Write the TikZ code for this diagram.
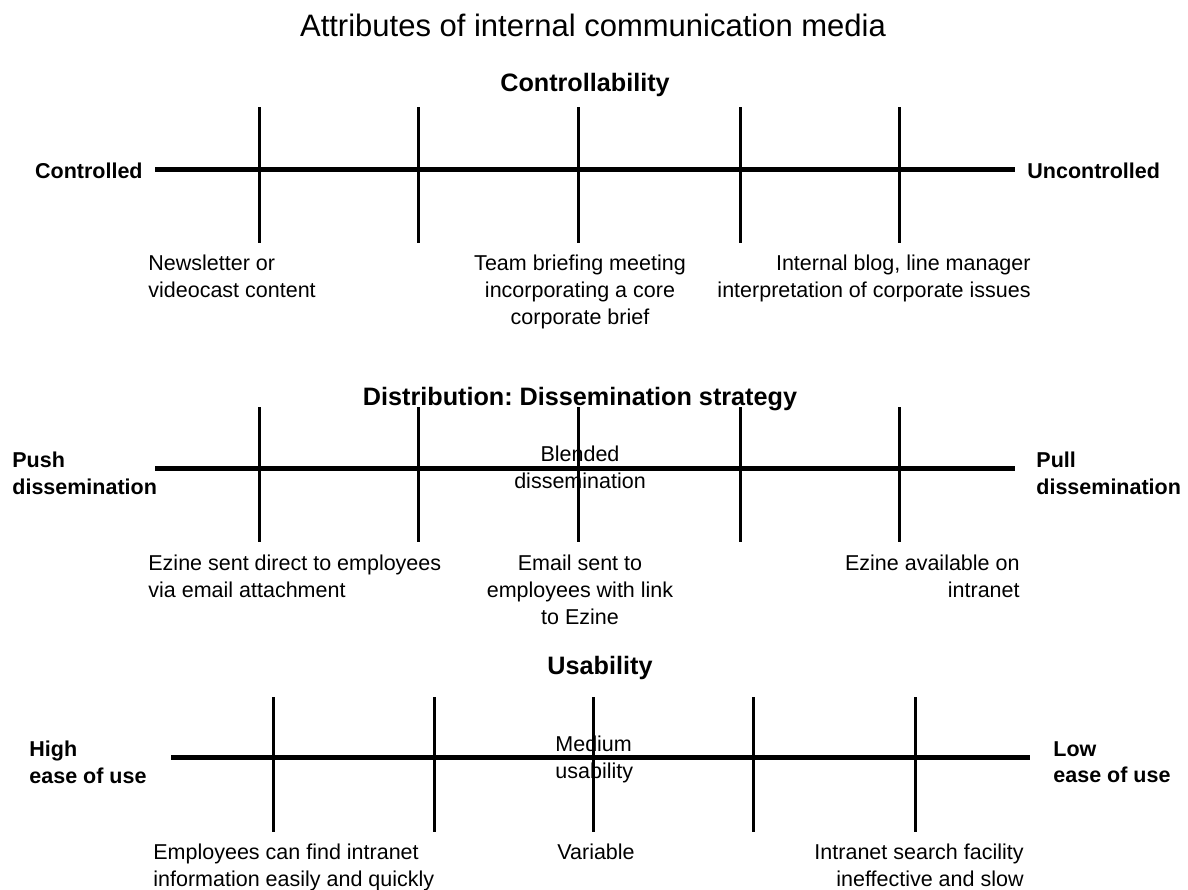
\documentclass[tikz,border=0pt]{standalone}
\usepackage{fontspec}
\setmainfont{Liberation Sans}
\usepackage{tikz}

\begin{document}
\begin{tikzpicture}[x=0.5pt,y=0.5pt,yscale=-1,xscale=1,
  axisline/.style={line width=2.5pt},
  tickline/.style={line width=1.5pt},
  lbl/.style={inner sep=0pt,font=\fontsize{10.75}{13.3}\selectfont},
  endlbl/.style={inner sep=0pt,font=\fontsize{10.75}{13.3}\selectfont\bfseries,align=left},
  headlbl/.style={inner sep=0pt,font=\fontsize{12.6}{14.5}\selectfont\bfseries}]
\useasboundingbox (0,0) rectangle (1188,889);

% Text Node
\draw (593,14) node [anchor=north][inner sep=0pt,font=\fontsize{15.5}{18}\selectfont] (title) {Attributes of internal communication media};

%%%% Controllability
% Text Node
\draw (585,73) node [anchor=north][headlbl] (ctrlhead) {Controllability};
%Straight Lines
\draw [axisline]    (155,169) -- (1015,169) ;
%Straight Lines
\draw [tickline]    (259,107) -- (259,243) ;
%Straight Lines
\draw [tickline]    (418,107) -- (418,243) ;
%Straight Lines
\draw [tickline]    (578,107) -- (578,243) ;
%Straight Lines
\draw [tickline]    (740,107) -- (740,243) ;
%Straight Lines
\draw [tickline]    (899,107) -- (899,243) ;
% Text Node
\draw (143,163) node [anchor=north east][endlbl] (controlled) {Controlled};
% Text Node
\draw (1027,163) node [anchor=north west][endlbl] (uncontrolled) {Uncontrolled};
% Text Node
\draw (148,255) node [anchor=north west][lbl,align=left] (newsletter) {Newsletter or\\videocast content};
% Text Node
\draw (580,255) node [anchor=north][lbl,align=center] (teambrief) {Team briefing meeting\\incorporating a core\\corporate brief};
% Text Node
\draw (1031,255) node [anchor=north east][lbl,align=right] (blog) {Internal blog, line manager\\interpretation of corporate issues};

%%%% Distribution
% Text Node
\draw (580,387) node [anchor=north][headlbl] (disthead) {Distribution:\ Dissemination strategy};
%Straight Lines
\draw [axisline]    (155,468) -- (1015,468) ;
%Straight Lines
\draw [tickline]    (259,407) -- (259,542) ;
%Straight Lines
\draw [tickline]    (418,407) -- (418,542) ;
%Straight Lines
\draw [tickline]    (578,407) -- (578,542) ;
%Straight Lines
\draw [tickline]    (740,407) -- (740,542) ;
%Straight Lines
\draw [tickline]    (899,407) -- (899,542) ;
% Text Node
\draw (12,452) node [anchor=north west][endlbl] (push) {Push\\dissemination};
% Text Node
\draw (1036,452) node [anchor=north west][endlbl] (pull) {Pull\\dissemination};
% Text Node
\draw (580,446) node [anchor=north][lbl,align=center] (blended) {Blended\\dissemination};
% Text Node
\draw (148,555) node [anchor=north west][lbl,align=left] (ezinesent) {Ezine sent direct to employees\\via email attachment};
% Text Node
\draw (580,555) node [anchor=north][lbl,align=center] (emaillink) {Email sent to\\employees with link\\to Ezine};
% Text Node
\draw (1020,555) node [anchor=north east][lbl,align=right] (ezineintra) {Ezine available on\\intranet};

%%%% Usability
% Text Node
\draw (600,656) node [anchor=north][headlbl] (usehead) {Usability};
%Straight Lines
\draw [axisline]    (171,757) -- (1030,757) ;
%Straight Lines
\draw [tickline]    (273,697) -- (273,832) ;
%Straight Lines
\draw [tickline]    (434,697) -- (434,832) ;
%Straight Lines
\draw [tickline]    (593,697) -- (593,832) ;
%Straight Lines
\draw [tickline]    (753,697) -- (753,832) ;
%Straight Lines
\draw [tickline]    (915,697) -- (915,832) ;
% Text Node
\draw (29,741) node [anchor=north west][endlbl] (high) {High\\ease of use};
% Text Node
\draw (1053,741) node [anchor=north west][endlbl] (low) {Low\\ease of use};
% Text Node
\draw (555,736) node [anchor=north west][lbl,align=left] (medium) {Medium\\usability};
% Text Node
\draw (153,844) node [anchor=north west][lbl,align=left] (findeasy) {Employees can find intranet\\information easily and quickly};
% Text Node
\draw (557,844) node [anchor=north west][lbl] (variable) {Variable};
% Text Node
\draw (1024,844) node [anchor=north east][lbl,align=right] (searchslow) {Intranet search facility\\ineffective and slow};

\end{tikzpicture}
\end{document}
